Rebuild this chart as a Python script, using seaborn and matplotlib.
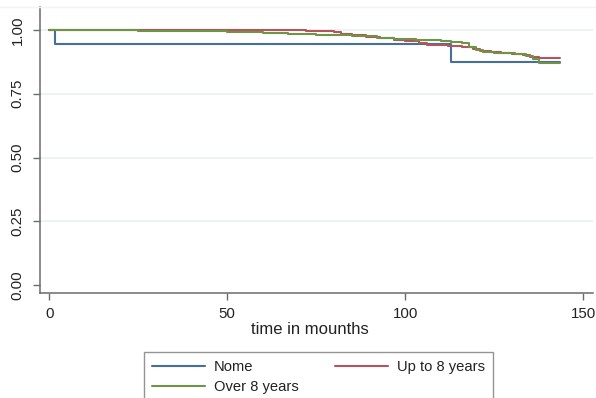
import numpy as np
import pandas as pd
import matplotlib
matplotlib.use("Agg")
import matplotlib.pyplot as plt
from matplotlib.lines import Line2D
import seaborn as sns

# Kaplan-Meier survival estimates by schooling group (time in months)
nome_time = [0, 1.6, 112.8, 143.4]
nome_surv = [1.0, 0.945, 0.876, 0.876]

up8_time = [0, 60, 72, 80, 82, 85, 89, 93, 97, 100, 104, 106, 112, 116, 119,
            121, 124, 127, 130, 133, 135, 137.5, 143.5]
up8_surv = [1.0, 0.999, 0.997, 0.993, 0.983, 0.979, 0.974, 0.968, 0.962, 0.956,
            0.948, 0.941, 0.937, 0.932, 0.925, 0.918, 0.915, 0.911, 0.906, 0.900,
            0.895, 0.889, 0.889]

over8_time = [0, 10, 25, 38, 50, 60, 67, 75, 85, 92, 97, 103, 110, 113, 116, 118,
              120, 122, 125, 128, 131, 134, 136, 137.5, 143.4]
over8_surv = [1.0, 0.998, 0.996, 0.994, 0.991, 0.988, 0.984, 0.980, 0.975, 0.970,
              0.965, 0.961, 0.958, 0.952, 0.948, 0.935, 0.922, 0.915, 0.911, 0.908,
              0.904, 0.898, 0.885, 0.872, 0.872]

groups = ["Nome", "Up to 8 years", "Over 8 years"]
colors = ["#46709a", "#b4545c", "#6f9446"]
x_ticks = [0, 50, 100, 150]
y_ticks = [0.00, 0.25, 0.50, 0.75, 1.00]

df = pd.concat([
    pd.DataFrame({"time": nome_time, "surv": nome_surv, "group": groups[0]}),
    pd.DataFrame({"time": up8_time, "surv": up8_surv, "group": groups[1]}),
    pd.DataFrame({"time": over8_time, "surv": over8_surv, "group": groups[2]}),
], ignore_index=True)

sns.set_style("white")
plt.rcParams["font.family"] = ["Liberation Sans", "DejaVu Sans"]

fig = plt.figure(figsize=(5.96, 3.98), dpi=100)
W, H = 596, 398
left, right, top, bottom = 40, 593, 7, 293
ax = fig.add_axes([left / W, 1 - bottom / H, (right - left) / W, (bottom - top) / H])

# faint band edge along the top of the graph region
fig.add_artist(Line2D([0, 1], [1 - 6.5 / H, 1 - 6.5 / H], color="#f1f4f6",
                      lw=1.0, transform=fig.transFigure))

for yv in y_ticks[1:]:
    ax.axhline(yv, color="#eaf2f3", lw=1.3, zorder=0)

sns.lineplot(data=df, x="time", y="surv", hue="group", hue_order=groups,
             palette=colors, estimator=None, sort=False, drawstyle="steps-post",
             linewidth=1.5, ax=ax, legend=False)

ax.set_xlim(-2.64, 152.8)
ax.set_ylim(-0.031, 1.09)
ax.set_xticks(x_ticks)
ax.set_xticklabels([str(v) for v in x_ticks])
ax.set_yticks(y_ticks)
ax.set_yticklabels([f"{v:.2f}" for v in y_ticks])

for s in ["top", "right"]:
    ax.spines[s].set_visible(False)
for s in ["left", "bottom"]:
    ax.spines[s].set_color("#6b6b6b")
    ax.spines[s].set_linewidth(1.1)

ax.tick_params(axis="both", which="major", direction="out", length=5,
               width=1.0, color="#6b6b6b", labelsize=10.8, labelcolor="#222222",
               left=True, bottom=True)
ax.tick_params(axis="x", pad=5)
ax.tick_params(axis="y", pad=6, labelrotation=90)
for lab in ax.get_yticklabels():
    lab.set_va("center")

ax.set_xlabel("time in mounths", fontsize=12, color="#222222")
ax.set_ylabel("")
ax.xaxis.set_label_coords((310 - left) / (right - left), (bottom - 329) / (bottom - top))
ax.xaxis.label.set_va("center")

handles = [Line2D([0], [0], color=c, lw=1.5) for c in colors]
order = [0, 2, 1]
leg = fig.legend([handles[i] for i in order], [groups[i] for i in order],
                 loc="upper left", bbox_to_anchor=(144 / W, 1 - 352 / H),
                 bbox_transform=fig.transFigure, ncol=2, frameon=True,
                 fancybox=False, fontsize=10.6, handlelength=3.6,
                 handletextpad=0.6, columnspacing=2.5, borderpad=0.55,
                 labelspacing=0.4, borderaxespad=0)
leg.get_frame().set_edgecolor("#7a7a7a")
leg.get_frame().set_linewidth(1.0)
for t in leg.get_texts():
    t.set_color("#222222")

fig.savefig("out.png", dpi=100)
